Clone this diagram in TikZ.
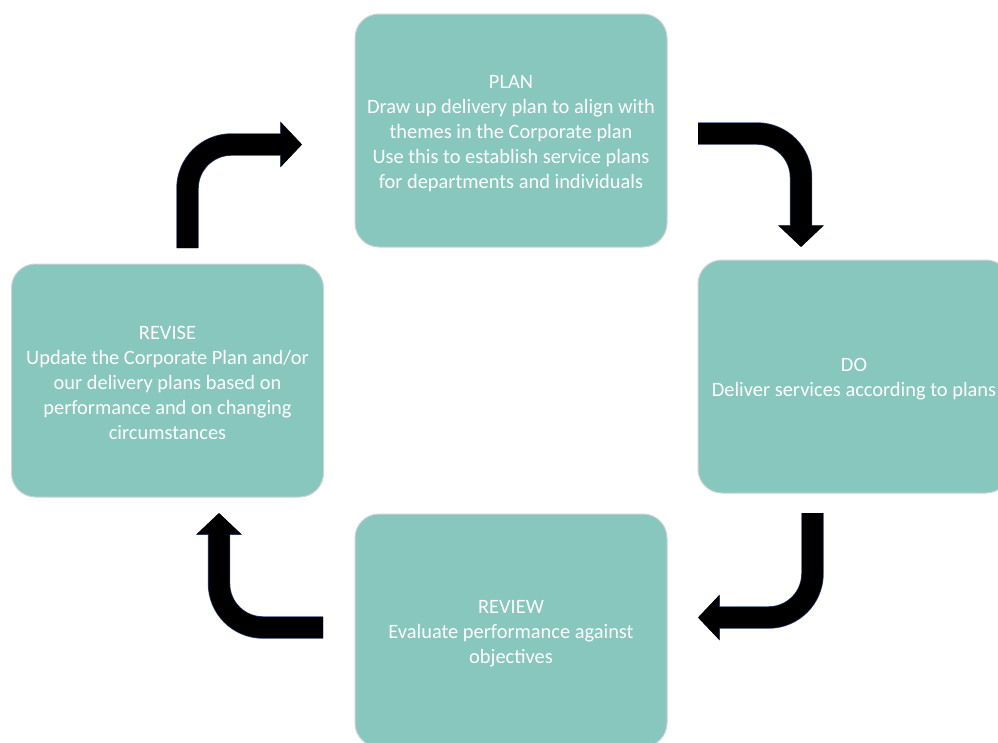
\documentclass[tikz,border=0pt]{standalone}
\usepackage{fontspec}
\setmainfont{Carlito}
\usetikzlibrary{arrows.meta,positioning,calc}
\definecolor{stagefill}{RGB}{136,199,190}
\definecolor{stageline}{RGB}{205,210,210}
\definecolor{arrline}{RGB}{45,65,115}
\newcommand\stagetop{\rule{0pt}{19pt}}
\tikzset{
  stage/.style={rectangle, rounded corners=24pt, draw=stageline, line width=1pt, fill=stagefill,
                text=white, align=center, minimum width=312pt, minimum height=233pt, inner sep=0pt,
                font=\fontsize{20.4}{25}\selectfont},
  cyclearr/.style={line width=21pt, rounded corners=44pt, black, -{Triangle[length=21pt,width=43pt]},
                   preaction={draw=arrline, line width=22.4pt, -{Triangle[length=21.8pt,width=44.6pt]}}},
}

\begin{document}
\begin{tikzpicture}[x=1pt, y=-1pt]
\useasboundingbox (0,0) rectangle (998,742);
\clip (0,0) rectangle (998,742);
% the four stages
\node[stage] (plan) at (511,130.5) {\stagetop PLAN\\Draw up delivery plan to align with\\themes in the Corporate plan\\Use this to establish service plans\\for departments and individuals};
\node[stage] (do) at (854,376.5) {\stagetop DO\\Deliver services according to plans};
\node[stage] (review) at (511,630.5) {\stagetop REVIEW\\Evaluate performance against\\objectives};
\node[stage] (revise) at (167.5,380.5) {\stagetop REVISE\\Update the Corporate Plan and/or\\our delivery plans based on\\performance and on changing\\circumstances};
% arrow ends
\coordinate (revise-out) at (187.5,248);
\coordinate (plan-in) at (302,144.5);
\coordinate (plan-out) at (698,133.5);
\coordinate (do-in) at (801,247);
\coordinate (do-out) at (812.5,513);
\coordinate (review-in) at (698,617.5);
\coordinate (review-out) at (323,627.5);
\coordinate (revise-in) at (219,513);
% the cycle
\draw[cyclearr] (revise-out) |- (plan-in);
\draw[cyclearr] (plan-out) -| (do-in);
\draw[cyclearr] (do-out) |- (review-in);
\draw[cyclearr] (review-out) -| (revise-in);
\end{tikzpicture}
\end{document}
